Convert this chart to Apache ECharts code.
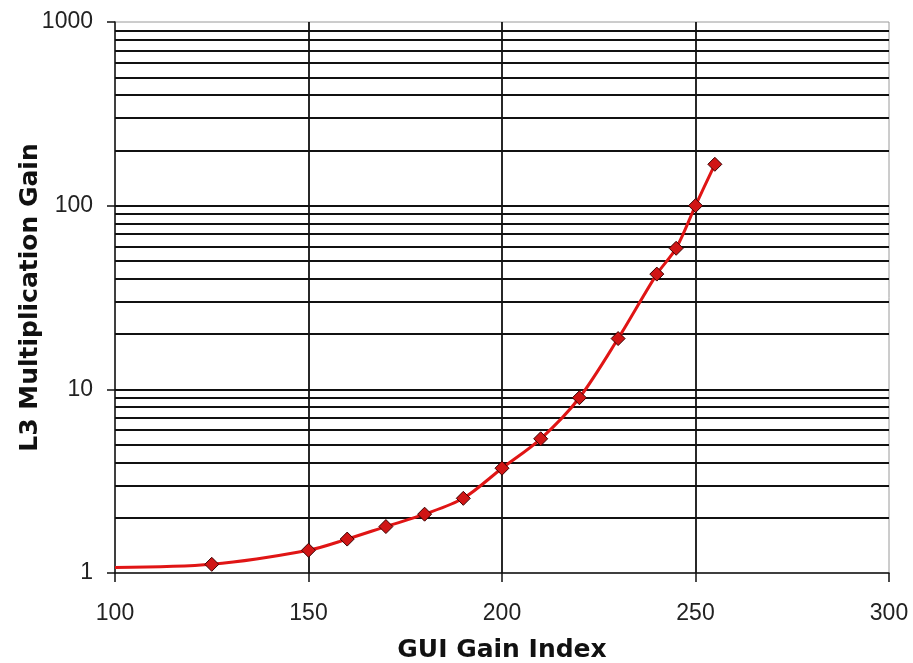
<!DOCTYPE html>
<html>
<head>
<meta charset="utf-8">
<script src="https://cdn.jsdelivr.net/npm/echarts@6/dist/echarts.min.js"></script>
<style>
  html, body { margin: 0; padding: 0; background: #fff; }
  #chart { width: 913px; height: 663px; }
</style>
</head>
<body>
<div id="chart"></div>
<script>
// values
var gainIndex = [100, 125, 150, 160, 170, 180, 190, 200, 210, 220, 230, 240, 245, 250, 255];
var l3Gain = [1.07, 1.115, 1.33, 1.53, 1.79, 2.09, 2.55, 3.72, 5.38, 9.0, 18.9, 42.4, 58.6, 100, 168];
// points that carry no marker in the reference (line start)
var hiddenMarker = [100];
// horizontal log grid lines (2..9 of each decade, plus decades)
var logGrid = [2, 3, 4, 5, 6, 7, 8, 9, 10, 20, 30, 40, 50, 60, 70, 80, 90, 100,
               200, 300, 400, 500, 600, 700, 800, 900];

var chart = echarts.init(document.getElementById('chart'));

var seriesData = gainIndex.map(function(x, i) {
    var p = { value: [x, l3Gain[i]] };
    if (hiddenMarker.indexOf(x) >= 0) p.symbol = 'none';
    return p;
});

chart.setOption({
    animation: false,
    backgroundColor: '#fff',
    grid: {
        left: 115, right: 24, top: 22, bottom: 90,
        outerBoundsMode: 'none',
        containLabel: false,
        show: true, borderColor: '#9a9a9a', borderWidth: 1
    },
    xAxis: {
        type: 'value',
        min: 100, max: 300, interval: 50,
        name: 'GUI Gain Index',
        nameLocation: 'middle',
        nameGap: 65,
        nameMoveOverlap: false,
        nameTextStyle: { fontFamily: 'DejaVu Sans', fontWeight: 'bold', fontSize: 25, color: '#111' },
        axisLine: { show: true, lineStyle: { color: '#111', width: 1.5 } },
        axisTick: { show: true, inside: false, length: 9, lineStyle: { color: '#111', width: 1.5 } },
        axisLabel: { fontFamily: 'Liberation Sans', fontSize: 23, color: '#222', margin: 29 },
        splitLine: { show: true, showMinLine: false, showMaxLine: false, lineStyle: { color: '#111', width: 1.8 } }
    },
    yAxis: {
        type: 'log',
        logBase: 10,
        min: 1, max: 1000,
        name: 'L3 Multiplication Gain',
        nameLocation: 'middle',
        nameGap: 72,
        nameMoveOverlap: false,
        nameTextStyle: { fontFamily: 'DejaVu Sans', fontWeight: 'bold', fontSize: 25, color: '#111' },
        axisLine: { show: true, lineStyle: { color: '#111', width: 1.5 } },
        axisTick: { show: true, inside: false, length: 8, lineStyle: { color: '#111', width: 1.5 } },
        axisLabel: {
            fontFamily: 'Liberation Sans', fontSize: 23, color: '#222', margin: 22,
            formatter: function(v) { return String(Math.round(v)); }
        },
        splitLine: { show: false }
    },
    series: [{
        // grid lines only
        type: 'line',
        data: [],
        z: 1,
        silent: true,
        markLine: {
            silent: true,
            symbol: ['none', 'none'],
            label: { show: false },
            lineStyle: { color: '#111', width: 1.8, type: 'solid' },
            data: logGrid.map(function(v) { return { yAxis: v }; })
        }
    }, {
        type: 'line',
        data: seriesData,
        z: 5,
        smooth: 0.3,
        symbol: 'diamond',
        symbolSize: 14,
        lineStyle: { color: '#e01515', width: 3 },
        itemStyle: { color: '#d01515', borderColor: '#3a0000', borderWidth: 1 }
    }]
});
</script>
</body>
</html>
